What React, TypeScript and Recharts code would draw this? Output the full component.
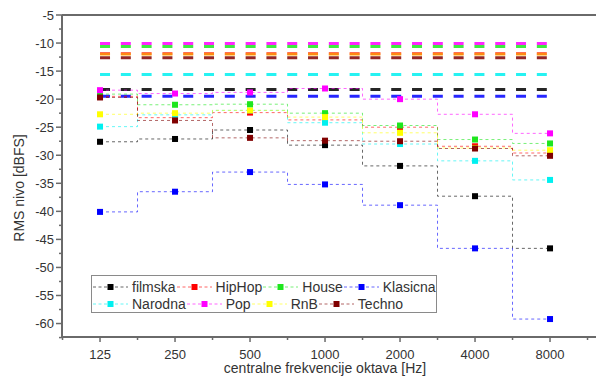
import React from "react";
import { LineChart, Line, XAxis, YAxis, ReferenceLine, Customized } from "recharts";

// octave-band centre frequencies (category labels on x)
const bands = ["125", "250", "500", "1000", "2000", "4000", "8000"];

const genres = ["filmska", "HipHop", "House", "Klasicna", "Narodna", "Pop", "RnB", "Techno"];
const colors = ["#000000", "#ff0000", "#1ee61e", "#0000ff", "#00f0f0", "#ff00ff", "#ffff00", "#800000"];

// RMS level per octave band [dBFS]
const filmska = [-27.6, -27.1, -25.5, -28.2, -31.9, -37.3, -46.6];
const hipHop = [-19.5, -23.3, -22.4, -23.7, -25.0, -28.4, -29.6];
const house = [-19.1, -21.0, -20.9, -22.5, -24.7, -27.2, -27.9];
const klasicna = [-40.1, -36.5, -33.0, -35.2, -38.9, -46.6, -59.2];
const narodna = [-24.9, -22.8, -22.0, -24.2, -28.0, -31.0, -34.4];
const pop = [-18.4, -19.0, -18.8, -18.1, -20.0, -22.7, -26.1];
const rnb = [-22.7, -22.5, -22.0, -23.2, -26.0, -28.7, -29.1];
const techno = [-19.7, -23.8, -26.9, -27.4, -27.5, -28.8, -30.1];

// overall (broadband) RMS level per genre, drawn as thick dashed lines
const overall = [-18.3, -11.9, -10.6, -19.5, -15.6, -10.1, -12.0, -12.6];

const yMajor = [-60, -55, -50, -45, -40, -35, -30, -25, -20, -15, -10, -5];
const yMinor = [-62.5, -57.5, -52.5, -47.5, -42.5, -37.5, -32.5, -27.5, -22.5, -17.5, -12.5, -7.5];
const xMajor = [0, 1, 2, 3, 4, 5, 6];
const xMinor = [-0.5, 0.5, 1.5, 2.5, 3.5, 4.5, 5.5, 6.5];

const bandSeries = [filmska, hipHop, house, klasicna, narodna, pop, rnb, techno];

const data = bands.map((b, i) => {
  const row: Record<string, number | string> = { x: i, band: b };
  genres.forEach((g, k) => {
    row[g] = bandSeries[k][i];
    row[g + "_all"] = overall[k];
  });
  return row;
});

const FONT = "'Liberation Sans', Arial, sans-serif";
const AXIS = "#6a6a6a";

const YTick = (props: any) => {
  const { x, y, payload } = props;
  const major = yMajor.includes(payload.value);
  return (
    <g>
      <line x1={x - (major ? 6 : 3)} x2={x} y1={y} y2={y} stroke={AXIS} strokeWidth={1.5} />
      {major && (
        <text x={x - 8} y={y} textAnchor="end" dominantBaseline="central" fontSize={13} fill="#333" fontFamily={FONT}>
          {payload.value}
        </text>
      )}
    </g>
  );
};

const XTick = (props: any) => {
  const { x, y, payload } = props;
  const major = xMajor.includes(payload.value);
  return (
    <g>
      <line x1={x} x2={x} y1={y} y2={y + (major ? 5 : 3)} stroke={AXIS} strokeWidth={1.5} />
      {major && (
        <text x={x} y={y + 17} textAnchor="middle" dominantBaseline="central" fontSize={13} fill="#333" fontFamily={FONT}>
          {bands[payload.value]}
        </text>
      )}
    </g>
  );
};

const squareDot = (color: string) => (p: any) => {
  const { cx, cy, index } = p;
  if (cx == null || cy == null) return <g key={index} />;
  return <rect key={index} x={cx - 3} y={cy - 3} width={6} height={6} fill={color} />;
};

const Titles = () => (
  <g fontFamily={FONT} fill="#333">
    <text x={325} y={368} textAnchor="middle" dominantBaseline="central" fontSize={14}>
      centralne frekvencije oktava [Hz]
    </text>
    <text x={19} y={188} textAnchor="middle" dominantBaseline="central" fontSize={14} transform="rotate(-90 19 188)">
      RMS nivo [dBFS]
    </text>
  </g>
);

const LegendSymbol = ({ color }: { color: string }) => (
  <svg width={35} height={14} style={{ display: "block" }}>
    <line x1={0} x2={35} y1={7} y2={7} stroke={color} strokeOpacity={0.6} strokeDasharray="3 2.5" />
    <rect x={14.5} y={4} width={6} height={6} fill={color} />
  </svg>
);

const LegendRow = ({ names, top }: { names: string[]; top: number }) => (
  <div style={{ position: "absolute", left: 1, top, display: "flex", alignItems: "center", height: 16 }}>
    {names.map((n) => (
      <div key={n} style={{ display: "flex", alignItems: "center", marginRight: 1 }}>
        <LegendSymbol color={colors[genres.indexOf(n)]} />
        <span style={{ marginLeft: 4, fontSize: 14, color: "#333", lineHeight: "16px" }}>{n}</span>
      </div>
    ))}
  </div>
);

export default function App() {
  return (
    <div style={{ position: "absolute", left: 0, top: 0, width: 596, height: 377, background: "#fff", fontFamily: FONT, overflow: "hidden" }}>
      <LineChart width={596} height={377} data={data} margin={{ top: 15, right: 0, bottom: 0, left: 0 }}>
        <XAxis
          dataKey="x"
          type="number"
          domain={[-0.507, 6.613]}
          allowDataOverflow
          ticks={[...xMinor, ...xMajor]}
          height={40}
          tickSize={0}
          tickMargin={0}
          tickLine={false}
          tick={<XTick />}
          axisLine={{ stroke: AXIS, strokeWidth: 2 }}
          interval={0}
        />
        <YAxis
          type="number"
          domain={[-62.4, -5]}
          allowDataOverflow
          ticks={[...yMinor, ...yMajor]}
          width={62}
          tickSize={0}
          tickMargin={0}
          tickLine={false}
          tick={<YTick />}
          axisLine={{ stroke: AXIS, strokeWidth: 2 }}
          interval={0}
        />
        <ReferenceLine y={-5} stroke={AXIS} strokeWidth={2} />
        {genres.map((g, k) => (
          <Line
            key={g + "_all"}
            dataKey={g + "_all"}
            type="linear"
            stroke={colors[k]}
            strokeOpacity={g === "RnB" ? 0.45 : 0.85}
            strokeWidth={3}
            strokeDasharray="10 10.8"
            dot={false}
            activeDot={false}
            isAnimationActive={false}
          />
        ))}
        {genres.map((g, k) => (
          <Line
            key={g}
            dataKey={g}
            type="step"
            stroke={colors[k]}
            strokeOpacity={0.6}
            strokeWidth={1}
            strokeDasharray="3 3"
            dot={squareDot(colors[k])}
            activeDot={false}
            isAnimationActive={false}
          />
        ))}
        <Customized component={Titles} />
      </LineChart>
      <div style={{ position: "absolute", left: 91, top: 275, width: 346, height: 38, border: "1px solid #8a8a8a", boxSizing: "border-box", background: "#fff" }}>
        <LegendRow names={genres.slice(0, 4)} top={3} />
        <LegendRow names={genres.slice(4)} top={20} />
      </div>
    </div>
  );
}
